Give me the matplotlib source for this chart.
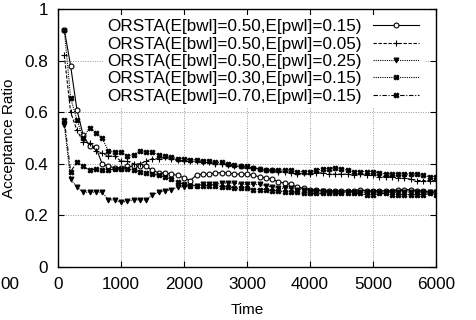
import matplotlib
matplotlib.use('Agg')
import matplotlib.pyplot as plt

plt.rcParams['font.family'] = ['Liberation Sans', 'DejaVu Sans']

tempos = list(range(100, 6100, 100))

rotulos = [
    'ORSTA(E[bwl]=0.50,E[pwl]=0.15)',
    'ORSTA(E[bwl]=0.50,E[pwl]=0.05)',
    'ORSTA(E[bwl]=0.50,E[pwl]=0.25)',
    'ORSTA(E[bwl]=0.30,E[pwl]=0.15)',
    'ORSTA(E[bwl]=0.70,E[pwl]=0.15)',
]

bwl50_pwl15 = [0.92, 0.78, 0.61, 0.51, 0.47, 0.465, 0.40, 0.39, 0.385, 0.385,
               0.39, 0.39, 0.39, 0.39, 0.375, 0.365, 0.364, 0.36, 0.355, 0.345,
               0.335, 0.357, 0.36, 0.36, 0.365, 0.365, 0.365, 0.36, 0.36, 0.36,
               0.355, 0.35, 0.345, 0.34, 0.33, 0.325, 0.32, 0.31, 0.305, 0.30,
               0.30, 0.295, 0.295, 0.295, 0.295, 0.295, 0.295, 0.30, 0.295, 0.295,
               0.295, 0.295, 0.295, 0.30, 0.30, 0.30, 0.295, 0.295, 0.29, 0.29]

bwl50_pwl05 = [0.82, 0.60, 0.53, 0.485, 0.48, 0.45, 0.44, 0.43, 0.43, 0.41,
               0.41, 0.40, 0.40, 0.41, 0.42, 0.42, 0.425, 0.42, 0.415, 0.41,
               0.41, 0.41, 0.405, 0.405, 0.40, 0.40, 0.395, 0.39, 0.39, 0.385,
               0.385, 0.38, 0.375, 0.375, 0.37, 0.37, 0.365, 0.36, 0.365, 0.36,
               0.365, 0.365, 0.36, 0.36, 0.36, 0.36, 0.355, 0.36, 0.355, 0.355,
               0.35, 0.35, 0.35, 0.345, 0.345, 0.34, 0.335, 0.335, 0.335, 0.335]

bwl50_pwl25 = [0.55, 0.34, 0.31, 0.29, 0.29, 0.29, 0.29, 0.26, 0.26, 0.25,
               0.255, 0.26, 0.26, 0.26, 0.28, 0.29, 0.295, 0.30, 0.31, 0.31,
               0.315, 0.315, 0.32, 0.32, 0.32, 0.325, 0.325, 0.325, 0.32, 0.32,
               0.32, 0.32, 0.315, 0.31, 0.305, 0.305, 0.305, 0.30, 0.30, 0.295,
               0.295, 0.295, 0.29, 0.29, 0.29, 0.29, 0.29, 0.29, 0.29, 0.29,
               0.29, 0.29, 0.29, 0.29, 0.29, 0.29, 0.29, 0.29, 0.29, 0.29]

bwl30_pwl15 = [0.92, 0.655, 0.57, 0.50, 0.54, 0.52, 0.50, 0.45, 0.445, 0.445,
               0.43, 0.435, 0.45, 0.445, 0.445, 0.435, 0.43, 0.425, 0.42, 0.42,
               0.415, 0.415, 0.41, 0.41, 0.405, 0.405, 0.40, 0.395, 0.39, 0.39,
               0.385, 0.38, 0.375, 0.375, 0.375, 0.375, 0.375, 0.37, 0.37, 0.37,
               0.375, 0.38, 0.38, 0.385, 0.38, 0.375, 0.37, 0.37, 0.37, 0.37,
               0.365, 0.36, 0.36, 0.36, 0.36, 0.36, 0.36, 0.355, 0.35, 0.35]

bwl70_pwl15 = [0.57, 0.37, 0.405, 0.39, 0.375, 0.38, 0.375, 0.375, 0.38, 0.38,
               0.38, 0.375, 0.37, 0.365, 0.36, 0.355, 0.35, 0.34, 0.33, 0.32,
               0.315, 0.315, 0.315, 0.315, 0.315, 0.31, 0.31, 0.305, 0.305, 0.305,
               0.30, 0.30, 0.30, 0.295, 0.295, 0.29, 0.29, 0.29, 0.285, 0.285,
               0.285, 0.285, 0.285, 0.285, 0.285, 0.285, 0.285, 0.285, 0.28, 0.28,
               0.285, 0.285, 0.28, 0.28, 0.28, 0.28, 0.28, 0.28, 0.285, 0.28]

series = [bwl50_pwl15, bwl50_pwl05, bwl50_pwl25, bwl30_pwl15, bwl70_pwl15]
estilos = [
    dict(ls='-', marker='o', mfc='white', ms=3.5),
    dict(ls=(0, (3, 1.5)), marker='+', ms=4.5),
    dict(ls=(0, (1, 1)), marker='v', ms=3.5),
    dict(ls=(0, (1, 1)), marker='X', ms=3.5),
    dict(ls=(0, (4, 1.5, 1, 1.5)), marker='X', ms=3.5),
]

fig = plt.figure(figsize=(4.77, 3.20), dpi=100)
ax = fig.add_axes([0.1216, 0.1656, 0.7924, 0.8064])

for dados, rot, est in zip(series, rotulos, estilos):
    ax.plot(tempos, dados, color='black', lw=0.8, mew=0.8, label=rot, **est)

ax.set_xlim(0, 6000)
ax.set_ylim(0, 1)
ax.set_xticks(range(0, 7000, 1000))
ax.set_yticks([0, 0.2, 0.4, 0.6, 0.8, 1])
ax.set_yticklabels(['0', '0.2', '0.4', '0.6', '0.8', '1'])
ax.tick_params(direction='in', top=True, right=True, labelsize=12.3, length=4, pad=7)
ax.grid(True, color='#999999', ls=(0, (1, 1.5)), lw=0.7)
for s in ax.spines.values():
    s.set_linewidth(1.0)

ax.set_xlabel('Time', fontsize=11, labelpad=8)
ax.set_ylabel('Acceptance Ratio', fontsize=11)
ax.yaxis.set_label_coords(-0.112, 0.5)

leg = ax.legend(loc='upper right', bbox_to_anchor=(0.99, 1.01), markerfirst=False,
                fontsize=12.3, handlelength=2.7, handletextpad=0.7,
                labelspacing=0.14, borderpad=0.25, frameon=True,
                fancybox=False, framealpha=1)
leg.get_frame().set_edgecolor('none')

fig.text(0.0, 0.11, '00', fontsize=12.3, ha='left', va='center')

fig.savefig('out.png', dpi=100)
